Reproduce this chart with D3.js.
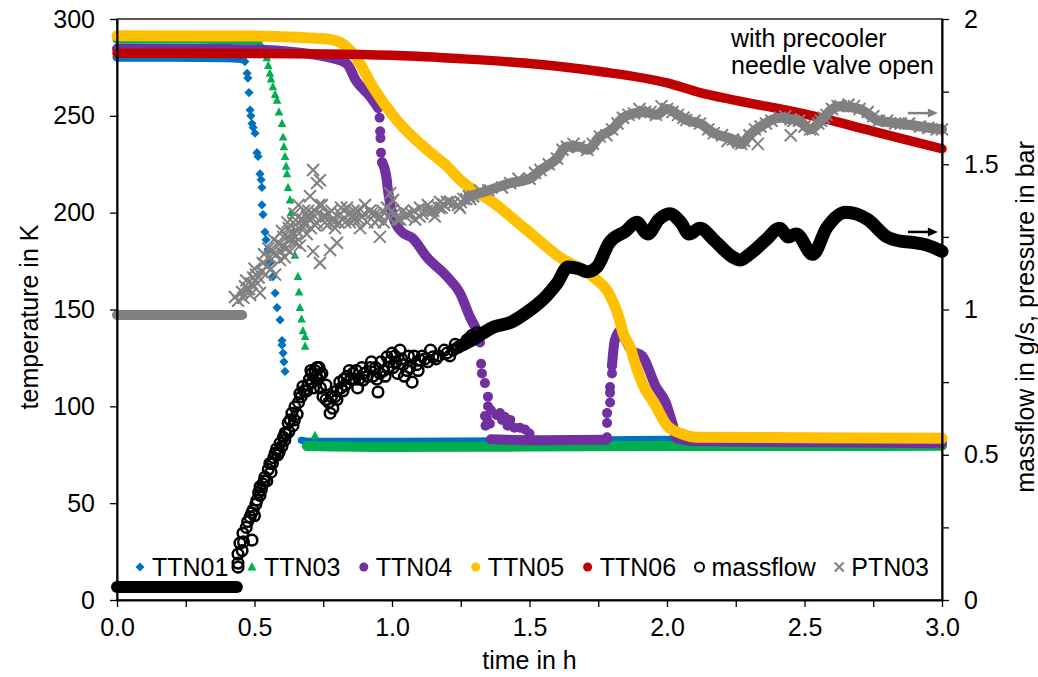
<!DOCTYPE html>
<html>
<head>
<meta charset="utf-8">
<script src="https://cdn.jsdelivr.net/npm/d3@7"></script>
<style>
body { margin: 0; background: #fff; }
text { font-family: Arial, "Liberation Sans", sans-serif; fill: #000; }
</style>
</head>
<body>
<script>
// values: [time in h, value]
var ttn01Start = [[0,280.3],[0.2,280.2],[0.4,280],[0.455,279.5]];
var ttn01Drop = [[0.465,278],[0.473,272],[0.476,269.5],[0.48,262],[0.484,253],[0.487,250],[0.491,246],[0.495,244],[0.502,241],[0.509,231],[0.513,229],[0.52,220],[0.524,217],[0.527,213],[0.527,204],[0.531,199],[0.538,190],[0.542,186],[0.549,181],[0.556,174],[0.567,167],[0.575,158.5],[0.582,151],[0.593,144.6],[0.6,134],[0.6,131.7],[0.604,127.5],[0.607,123],[0.611,118]];
var ttn01End = [[0.67,82.5],[0.7,82],[1.0,82],[1.5,82.3],[1.8,82.8],[2.0,83],[2.5,82.3],[3.0,81.8]];

var ttn03Start = [[0,289.5],[0.3,289.5],[0.515,289]];
var ttn03Drop = [[0.52,287.6],[0.53,285],[0.538,282],[0.545,280],[0.55,276],[0.556,272],[0.56,269],[0.567,265],[0.575,261],[0.582,258],[0.589,252],[0.6,246],[0.604,239],[0.607,234],[0.611,229],[0.615,224],[0.618,220],[0.622,213],[0.629,206.5],[0.633,200],[0.64,190],[0.647,178],[0.658,167],[0.662,159],[0.665,151],[0.671,145],[0.676,139],[0.684,136],[0.684,131],[0.72,85]];
var ttn03End = [[0.69,79.5],[1.0,79],[1.5,79.2],[2.0,79.5],[2.5,79.5],[3.0,79.6]];

var ttn04Start = [[0,284.6],[0.4,284.5],[0.5,284.2],[0.6,283.5],[0.7,282],[0.775,280],[0.835,277],[0.87,268],[0.92,260],[0.95,254]];
var ttn04Mid = [[0.964,226],[0.98,218],[0.985,212],[1.004,198],[1.036,190],[1.073,187],[1.127,177],[1.2,167],[1.247,158.5],[1.284,146],[1.31,139]];
var ttn04Floor = [[1.36,83],[1.5,82.5],[1.78,82.8]];
var ttn04End = [[1.8,121],[1.81,134],[1.83,139],[1.85,134],[1.87,129],[1.91,126],[1.96,110],[1.995,102],[2.02,91],[2.035,83.5],[2.1,82],[2.5,81.5],[3.0,81]];
var ttn04Dots = [[0.955,249],[0.957,242],[0.958,238.5],[0.96,231],[0.964,226],[1.32,133],[1.324,122],[1.327,117],[1.338,112],[1.349,105],[1.349,100],[1.338,95],[1.356,91],[1.34,90],[1.345,94],[1.36,98],[1.38,95.5],[1.393,96.5],[1.4,93],[1.411,94.5],[1.42,90],[1.43,93],[1.445,89],[1.465,89],[1.484,88],[1.5,86],[1.782,84],[1.782,91.4],[1.782,96.5],[1.793,102],[1.793,107],[1.793,110],[1.8,117],[1.8,121]];

var ttn05 = [[0,291.3],[0.5,291.2],[0.6,290.8],[0.7,290.2],[0.775,289.5],[0.81,288],[0.847,284],[0.87,280],[0.93,265],[1.016,248],[1.14,231],[1.2,224],[1.247,217],[1.37,205],[1.49,191],[1.61,177],[1.73,167],[1.79,158],[1.825,146],[1.84,138],[1.87,129],[1.88,124],[1.91,112],[1.96,100],[2.0,90],[2.05,86],[2.11,84],[2.5,83.8],[3.0,83.5]];

var ttn06 = [[0,282.3],[0.5,282.2],[1.0,281.3],[1.25,279.5],[1.5,277],[1.75,273],[2.0,267],[2.12,262],[2.25,258],[2.5,251],[2.75,242],[3.0,233]];

var massflowStart = [[0,0.045],[0.436,0.045]];
var massflowScatter = [[0.44,0.113],[0.44,0.127],[0.44,0.158],[0.447,0.196],[0.455,0.17],[0.458,0.23],[0.46,0.2],[0.47,0.25],[0.475,0.27],[0.491,0.206],[0.484,0.286],[0.49,0.3],[0.495,0.31],[0.5,0.29],[0.505,0.33],[0.509,0.344],[0.515,0.37],[0.52,0.39],[0.52,0.36],[0.525,0.38],[0.53,0.4],[0.535,0.41],[0.538,0.423],[0.545,0.41],[0.55,0.45],[0.556,0.47],[0.56,0.44],[0.565,0.47],[0.57,0.49],[0.575,0.505],[0.58,0.52],[0.585,0.5],[0.59,0.51],[0.593,0.54],[0.6,0.53],[0.605,0.56],[0.61,0.55],[0.611,0.575],[0.615,0.57],[0.622,0.61],[0.625,0.58],[0.63,0.62],[0.636,0.643],[0.64,0.6],[0.645,0.62],[0.647,0.665],[0.655,0.64],[0.66,0.68],[0.665,0.71],[0.67,0.7],[0.676,0.735],[0.68,0.72],[0.69,0.72],[0.695,0.74],[0.7,0.76],[0.705,0.79],[0.709,0.78],[0.71,0.75],[0.715,0.73],[0.72,0.79],[0.725,0.77],[0.727,0.8],[0.73,0.76],[0.735,0.8],[0.738,0.775],[0.74,0.73],[0.745,0.78],[0.749,0.7],[0.76,0.69],[0.76,0.74],[0.77,0.68],[0.775,0.643],[0.78,0.7],[0.785,0.66],[0.793,0.7],[0.8,0.72],[0.8,0.69],[0.81,0.75],[0.815,0.73],[0.822,0.72],[0.825,0.76],[0.83,0.74],[0.836,0.77],[0.845,0.79],[0.85,0.76],[0.858,0.78],[0.865,0.76],[0.87,0.79],[0.875,0.73],[0.88,0.76],[0.89,0.8],[0.895,0.757],[0.9,0.78],[0.91,0.77],[0.92,0.8],[0.925,0.82],[0.93,0.77],[0.94,0.8],[0.945,0.76],[0.949,0.716],[0.956,0.78],[0.96,0.82],[0.97,0.79],[0.975,0.77],[0.982,0.837],[0.985,0.8],[0.99,0.82],[1.0,0.85],[1.004,0.8],[1.01,0.84],[1.015,0.82],[1.02,0.78],[1.029,0.86],[1.035,0.83],[1.04,0.81],[1.045,0.77],[1.055,0.79],[1.06,0.84],[1.065,0.8],[1.073,0.75],[1.08,0.84],[1.09,0.81],[1.095,0.79],[1.102,0.826],[1.11,0.84],[1.12,0.83],[1.13,0.82],[1.14,0.86],[1.149,0.837],[1.16,0.83],[1.17,0.84],[1.19,0.86],[1.2,0.85],[1.21,0.84],[1.222,0.86],[1.23,0.88],[1.24,0.87],[1.26,0.88],[1.273,0.895],[1.28,0.9],[1.29,0.91],[1.309,0.92]];
var massflowLine = [[1.25,0.875],[1.3,0.9],[1.37,0.94],[1.43,0.955],[1.49,0.99],[1.56,1.045],[1.6,1.09],[1.64,1.146],[1.68,1.14],[1.71,1.13],[1.745,1.146],[1.79,1.23],[1.85,1.27],[1.89,1.3],[1.93,1.26],[1.97,1.31],[2.01,1.33],[2.05,1.3],[2.08,1.26],[2.12,1.28],[2.17,1.24],[2.24,1.18],[2.265,1.17],[2.3,1.19],[2.36,1.24],[2.41,1.28],[2.44,1.25],[2.47,1.26],[2.53,1.19],[2.58,1.28],[2.65,1.335],[2.73,1.31],[2.8,1.25],[2.85,1.235],[2.9,1.23],[2.95,1.22],[3.0,1.2]];

var ptn03Start = [[0,0.981],[0.455,0.981]];
var ptn03Scatter = [[0.429,1.043],[0.44,1.03],[0.455,1.06],[0.46,1.04],[0.465,1.08],[0.47,1.1],[0.475,1.07],[0.48,1.07],[0.484,1.05],[0.49,1.09],[0.495,1.11],[0.5,1.14],[0.505,1.12],[0.51,1.09],[0.515,1.11],[0.52,1.057],[0.527,1.13],[0.53,1.16],[0.535,1.19],[0.54,1.12],[0.545,1.15],[0.55,1.21],[0.556,1.18],[0.56,1.14],[0.565,1.2],[0.57,1.24],[0.575,1.12],[0.58,1.19],[0.585,1.23],[0.593,1.17],[0.595,1.2],[0.6,1.27],[0.6,1.22],[0.605,1.25],[0.61,1.18],[0.615,1.21],[0.618,1.25],[0.62,1.3],[0.625,1.28],[0.629,1.2],[0.63,1.24],[0.635,1.26],[0.64,1.3],[0.645,1.33],[0.648,1.23],[0.65,1.25],[0.655,1.27],[0.658,1.3],[0.66,1.36],[0.665,1.22],[0.67,1.29],[0.675,1.31],[0.68,1.34],[0.685,1.29],[0.69,1.26],[0.691,1.32],[0.695,1.34],[0.7,1.31],[0.702,1.39],[0.705,1.28],[0.71,1.33],[0.713,1.48],[0.713,1.2],[0.72,1.29],[0.725,1.3],[0.727,1.435],[0.73,1.33],[0.735,1.36],[0.738,1.445],[0.738,1.16],[0.745,1.36],[0.75,1.32],[0.756,1.3],[0.76,1.32],[0.765,1.29],[0.77,1.33],[0.775,1.205],[0.78,1.34],[0.785,1.31],[0.79,1.3],[0.793,1.28],[0.8,1.23],[0.805,1.3],[0.811,1.33],[0.815,1.35],[0.82,1.31],[0.83,1.3],[0.836,1.35],[0.845,1.33],[0.847,1.3],[0.858,1.32],[0.86,1.34],[0.865,1.31],[0.875,1.34],[0.88,1.31],[0.884,1.28],[0.89,1.32],[0.9,1.33],[0.902,1.36],[0.91,1.3],[0.92,1.34],[0.925,1.33],[0.938,1.3],[0.94,1.33],[0.95,1.31],[0.956,1.25],[0.96,1.32],[0.965,1.34],[0.97,1.3],[0.982,1.35],[0.985,1.32],[0.993,1.4],[1.0,1.34],[1.004,1.377],[1.01,1.33],[1.02,1.31],[1.029,1.31],[1.04,1.34],[1.05,1.32],[1.055,1.33],[1.07,1.33],[1.08,1.34],[1.084,1.31],[1.1,1.32],[1.102,1.35],[1.11,1.33],[1.127,1.34],[1.13,1.36],[1.14,1.34],[1.15,1.34],[1.156,1.32],[1.17,1.35],[1.175,1.37],[1.18,1.35],[1.19,1.36],[1.2,1.37],[1.21,1.37],[1.222,1.365],[1.24,1.36],[1.247,1.35],[1.25,1.37],[1.26,1.38],[1.27,1.38],[1.285,1.38],[1.295,1.39]];
var ptn03Line = [[1.28,1.39],[1.35,1.41],[1.43,1.435],[1.5,1.45],[1.54,1.48],[1.6,1.52],[1.636,1.56],[1.68,1.56],[1.71,1.55],[1.756,1.595],[1.8,1.62],[1.84,1.66],[1.88,1.675],[1.92,1.68],[1.96,1.67],[2.0,1.69],[2.04,1.67],[2.07,1.652],[2.12,1.64],[2.17,1.607],[2.24,1.585],[2.27,1.57],[2.3,1.6],[2.34,1.63],[2.41,1.66],[2.45,1.655],[2.48,1.65],[2.52,1.62],[2.55,1.64],[2.57,1.66],[2.6,1.69],[2.63,1.7],[2.7,1.69],[2.77,1.65],[2.85,1.64],[2.92,1.63],[3.0,1.62]];
var ptn03Edge = [[1.32,1.41],[1.4,1.42],[1.46,1.45],[1.52,1.47],[1.57,1.5],[1.62,1.55],[1.66,1.57],[1.73,1.57],[1.78,1.6],[1.82,1.64],[1.86,1.67],[1.9,1.69],[1.94,1.68],[1.98,1.7],[2.02,1.68],[2.06,1.66],[2.1,1.65],[2.15,1.62],[2.2,1.6],[2.22,1.58],[2.26,1.575],[2.28,1.58],[2.32,1.62],[2.33,1.57],[2.36,1.64],[2.38,1.65],[2.43,1.665],[2.45,1.6],[2.46,1.65],[2.5,1.63],[2.53,1.62],[2.56,1.65],[2.58,1.67],[2.62,1.7],[2.66,1.705],[2.68,1.7],[2.73,1.68],[2.75,1.665],[2.8,1.65],[2.83,1.64],[2.88,1.64],[2.95,1.625],[2.98,1.62]];

var xTicks = [0,0.25,0.5,0.75,1,1.25,1.5,1.75,2,2.25,2.5,2.75,3];
var yLeftTicks = [0,50,100,150,200,250,300];
var yRightTicks = [0,0.25,0.5,0.75,1,1.25,1.5,1.75,2];

var legendItems = [
  {name: "TTN01", sym: "diamond", color: "#0070C0"},
  {name: "TTN03", sym: "triangle", color: "#00B050"},
  {name: "TTN04", sym: "circle", color: "#7030A0"},
  {name: "TTN05", sym: "circle", color: "#FFC000"},
  {name: "TTN06", sym: "circle", color: "#C00000"},
  {name: "massflow", sym: "open", color: "#000000"},
  {name: "PTN03", sym: "cross", color: "#808080"}
];

var fontSize = 25;

var margin = {top: 19, right: 96, bottom: 77, left: 117},
    width = 1038 - margin.left - margin.right,
    height = 677 - margin.top - margin.bottom;

var svg = d3.select("body").append("svg")
    .attr("width", 1038)
    .attr("height", 677);

var g = svg.append("g")
    .attr("transform", "translate(" + margin.left + "," + margin.top + ")");

var x = d3.scaleLinear().domain([0, 3]).range([0, width]);
var yL = d3.scaleLinear().domain([0, 300]).range([height, 0]);
var yR = d3.scaleLinear().domain([0, 2]).range([height, 0]);

function band(data, y, color, w) {
  var line = d3.line()
      .x(function(d) { return x(d[0]); })
      .y(function(d) { return y(d[1]); })
      .curve(d3.curveMonotoneX);
  g.append("path")
      .attr("d", line(data))
      .attr("fill", "none")
      .attr("stroke", color)
      .attr("stroke-width", w)
      .attr("stroke-linecap", "round")
      .attr("stroke-linejoin", "round");
}

function symbolPath(sym, s) {
  if (sym == "diamond") return "M0," + (-s) + "L" + s + ",0L0," + s + "L" + (-s) + ",0Z";
  if (sym == "triangle") return "M0," + (-s * 1.1) + "L" + s + "," + (s * 0.8) + "L" + (-s) + "," + (s * 0.8) + "Z";
  if (sym == "cross") return "M" + (-s) + "," + (-s) + "L" + s + "," + s + "M" + (-s) + "," + s + "L" + s + "," + (-s);
  return d3.symbol().type(d3.symbolCircle).size(Math.PI * s * s)();
}

function markers(data, y, sym, color, s, sw) {
  g.append("g").selectAll("path")
      .data(data)
    .enter().append("path")
      .attr("transform", function(d) { return "translate(" + x(d[0]) + "," + y(d[1]) + ")"; })
      .attr("d", symbolPath(sym, s))
      .attr("fill", sym == "open" || sym == "cross" ? "none" : color)
      .attr("stroke", sym == "open" || sym == "cross" ? color : "none")
      .attr("stroke-width", sw || 2);
}

// TTN01
band(ttn01Start, yL, "#0070C0", 9);
markers(ttn01Drop, yL, "diamond", "#0070C0", 4.6);
band(ttn01End, yL, "#0070C0", 7);

// TTN03
band(ttn03Start, yL, "#00B050", 9);
markers(ttn03Drop, yL, "triangle", "#00B050", 4.3);
band(ttn03End, yL, "#00B050", 10);

// TTN04
band(ttn04Start, yL, "#7030A0", 10);
band(ttn04Mid, yL, "#7030A0", 10);
band(ttn04Floor, yL, "#7030A0", 10);
band(ttn04End, yL, "#7030A0", 10);
markers(ttn04Dots, yL, "circle", "#7030A0", 5);

// TTN05, TTN06
band(ttn05, yL, "#FFC000", 11);
band(ttn06, yL, "#C00000", 9.5);

// massflow
band(massflowStart, yR, "#000000", 12);
markers(massflowScatter, yR, "open", "#000000", 5.3, 2.5);
band(massflowLine, yR, "#000000", 13);

// PTN03
band(ptn03Start, yR, "#808080", 10);
markers(ptn03Scatter, yR, "cross", "#808080", 6, 2);
band(ptn03Line, yR, "#808080", 10);
markers(ptn03Line, yR, "cross", "#808080", 6, 2);
markers(ptn03Edge, yR, "cross", "#808080", 6, 2);

// frame
g.append("rect")
    .attr("width", width)
    .attr("height", height)
    .attr("fill", "none")
    .attr("stroke", "#000")
    .attr("stroke-width", 1.3);

g.append("g")
    .attr("class", "x axis")
    .attr("transform", "translate(0," + height + ")")
    .call(d3.axisBottom(x).tickValues(xTicks).tickSize(7).tickSizeOuter(0).tickPadding(11)
      .tickFormat(function(d) { return d % 0.5 == 0 ? d3.format(".1f")(d) : ""; }));

g.append("g")
    .attr("class", "y axis")
    .call(d3.axisLeft(yL).tickValues(yLeftTicks).tickSize(7).tickSizeOuter(0).tickPadding(15));

g.append("g")
    .attr("class", "y axis")
    .attr("transform", "translate(" + width + ",0)")
    .call(d3.axisRight(yR).tickValues(yRightTicks).tickSize(7).tickSizeOuter(0).tickPadding(15)
      .tickFormat(function(d) { return d % 0.5 == 0 ? d3.format("~g")(d) : ""; }));

svg.selectAll(".axis path.domain").attr("stroke", "#000").attr("stroke-width", 2);
svg.selectAll(".axis line").attr("stroke", "#000").attr("stroke-width", 1.3);
svg.selectAll(".axis text").attr("font-size", fontSize).attr("font-family", "Arial, 'Liberation Sans', sans-serif").attr("fill", "#000");

// axis titles
svg.append("text")
    .attr("x", margin.left + width / 2)
    .attr("y", 669)
    .attr("text-anchor", "middle")
    .attr("font-size", fontSize)
    .text("time in h");

svg.append("text")
    .attr("transform", "translate(38,317) rotate(-90)")
    .attr("text-anchor", "middle")
    .attr("font-size", fontSize)
    .text("temperature in K");

svg.append("text")
    .attr("transform", "translate(1034,317) rotate(-90)")
    .attr("text-anchor", "middle")
    .attr("font-size", fontSize)
    .text("massflow in g/s, pressure in bar");

// annotation
var note = svg.append("text").attr("font-size", fontSize);
note.append("tspan").attr("x", 731).attr("y", 47).text("with precooler");
note.append("tspan").attr("x", 731).attr("y", 74).text("needle valve open");

// arrows
function arrow(v, color) {
  var yy = yR(v), x0 = x(2.876), x1 = x(2.985);
  g.append("line").attr("x1", x0).attr("x2", x1 - 6).attr("y1", yy).attr("y2", yy)
      .attr("stroke", color).attr("stroke-width", 2.5);
  g.append("path").attr("d", "M" + x1 + "," + yy + "L" + (x1 - 10) + "," + (yy - 4.5) + "L" + (x1 - 10) + "," + (yy + 4.5) + "Z")
      .attr("fill", color);
}
arrow(1.676, "#808080");
arrow(1.267, "#000000");

// legend
var legend = svg.append("g");
var lx = 140, ly = 567;
legendItems.forEach(function(item) {
  legend.append("path")
      .attr("transform", "translate(" + lx + "," + ly + ")")
      .attr("d", symbolPath(item.sym, 4.5))
      .attr("fill", item.sym == "open" || item.sym == "cross" ? "none" : item.color)
      .attr("stroke", item.sym == "open" || item.sym == "cross" ? item.color : "none")
      .attr("stroke-width", 2);
  var t = legend.append("text")
      .attr("x", lx + 12)
      .attr("y", ly + 9)
      .attr("font-size", fontSize)
      .text(item.name);
  lx = lx + 12 + t.node().getComputedTextLength() + 23.5;
});
</script>
</body>
</html>
